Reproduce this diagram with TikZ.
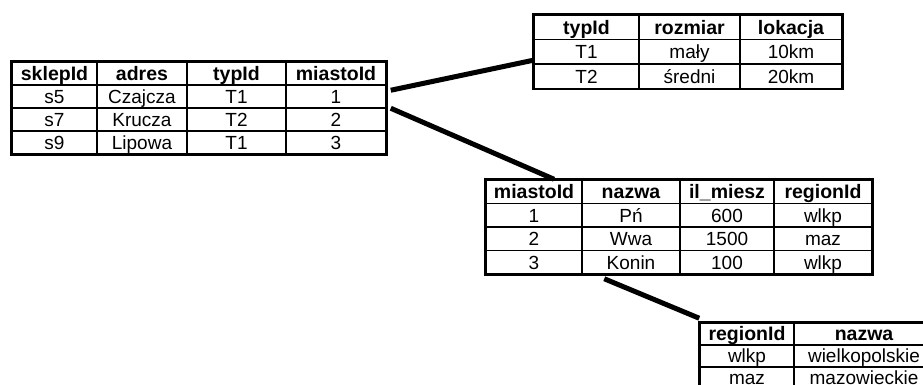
\documentclass[tikz,border=0pt]{standalone}
\usepackage{fontspec}
\setmainfont{Liberation Sans}
\usetikzlibrary{matrix,positioning}

\begin{document}
\begin{tikzpicture}[
    x=1pt, y=-1pt,
    cell/.style={draw, line width=1.5pt, inner sep=0pt, minimum height=23pt, anchor=center, text height=13.8pt, text depth=0pt, font=\fontsize{19}{21}\selectfont},
    hdr/.style={font=\fontsize{19.5}{21}\selectfont\bfseries},
    tbl/.style={matrix of nodes, draw, line width=2.5pt, inner sep=0pt, column sep=-1.5pt, row sep=-1.5pt, nodes={cell}, row 1/.style={nodes={hdr}}},
    link/.style={line width=5pt}
]
\useasboundingbox (0,0) rectangle (923,385);

% Shops
\matrix[tbl, anchor=north west,
    column 1/.style={nodes={minimum width=85pt}},
    column 2/.style={nodes={minimum width=90pt}},
    column 3/.style={nodes={minimum width=99pt}},
    column 4/.style={nodes={minimum width=100pt}}] (sklep) at (10,60) {
    sklepId & adres & typId & miastoId \\
    s5 & Czajcza & T1 & 1 \\
    s7 & Krucza & T2 & 2 \\
    s9 & Lipowa & T1 & 3 \\
};

% Shop types
\matrix[tbl, anchor=north west, nodes={minimum height=24.5pt},
    column 1/.style={nodes={minimum width=105pt}},
    column 2/.style={nodes={minimum width=101pt}},
    column 3/.style={nodes={minimum width=102pt}}] (typ) at (532,13) {
    typId & rozmiar & lokacja \\
    T1 & mały & 10km \\
    T2 & średni & 20km \\
};

% Cities
\matrix[tbl, anchor=north west, nodes={minimum height=23.5pt},
    column 1/.style={nodes={minimum width=96pt}},
    column 2/.style={nodes={minimum width=98pt}},
    column 3/.style={nodes={minimum width=94pt}},
    column 4/.style={nodes={minimum width=98pt}}] (miasto) at (484,178) {
    miastoId & nazwa & il\_miesz & regionId \\
    1 & Pń & 600 & wlkp \\
    2 & Wwa & 1500 & maz \\
    3 & Konin & 100 & wlkp \\
};

% Regions
\matrix[tbl, anchor=north west, nodes={minimum height=22pt},
    column 1/.style={nodes={minimum width=94pt}},
    column 2/.style={nodes={minimum width=140pt}}] (region) at (698,321) {
    regionId & nazwa \\
    wlkp & wielkopolskie \\
    maz & mazowieckie \\
};

% Links
\draw[link] ([shift={(4,6)}]sklep-2-4.north east) -- ([yshift=3pt]typ-3-1.north west);
\draw[link] ([shift={(4,1)}]sklep-3-4.north east) -- ([xshift=20pt]miasto-1-1.north);
\draw[link] ([shift={(23,4)}]miasto-4-2.south west) -- ([yshift=4pt]region-1-1.north west);

\end{tikzpicture}
\end{document}
